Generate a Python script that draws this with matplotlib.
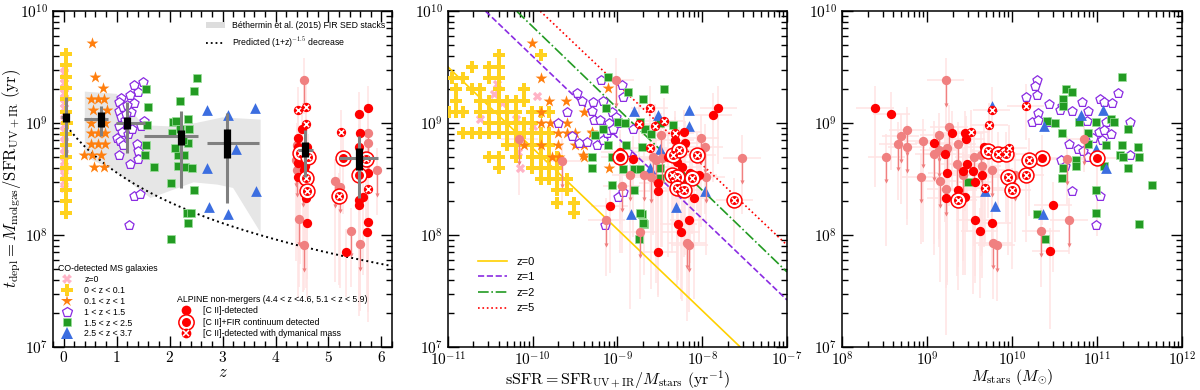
import numpy as np
import matplotlib.pyplot as plt
from matplotlib.lines import Line2D
from matplotlib.patches import Patch
from matplotlib.ticker import LogLocator, MultipleLocator, FuncFormatter, NullFormatter

plt.rcParams['mathtext.fontset'] = 'cm'
plt.rcParams['font.family'] = ['Liberation Sans', 'DejaVu Sans']

# ---------------- data (x, log10 t_depl) ----------------
# panel 1 : redshift
pink1 = [(0.0, 9.50), (0.0, 9.45), (0.0, 9.40), (0.0, 9.36), (0.0, 9.31), (0.0, 9.27), (0.0, 9.22),
         (0.0, 9.18), (0.0, 9.13), (0.0, 9.08), (0.0, 9.03), (0.0, 8.98), (0.0, 8.93), (0.0, 8.88),
         (0.0, 8.83), (0.0, 8.78), (0.0, 8.72), (0.0, 8.66), (0.0, 8.60), (0.0, 8.54), (0.0, 8.48), (0.0, 8.42)]
yel1 = [(0.04, 9.62), (0.04, 9.52), (0.05, 9.41), (0.04, 9.31), (0.05, 9.21), (0.04, 9.10), (0.06, 9.00),
        (0.04, 8.90), (0.05, 8.80), (0.04, 8.70), (0.05, 8.60), (0.04, 8.50), (0.04, 8.40), (0.04, 8.30), (0.04, 8.20)]
orange1 = [(0.53, 9.71), (0.60, 9.41), (0.75, 9.31), (0.51, 9.21), (0.64, 9.21), (0.77, 9.21), (0.56, 9.12),
           (0.82, 9.12), (0.51, 9.00), (0.79, 9.00), (0.51, 8.91), (0.64, 8.91), (0.78, 8.91), (0.51, 8.81),
           (0.64, 8.81), (0.78, 8.81), (0.38, 8.71), (0.54, 8.71), (0.70, 8.71), (0.58, 8.61), (0.77, 8.61)]
purple1 = [(1.32, 9.34), (1.49, 9.37), (1.41, 9.28), (1.25, 9.25), (1.09, 9.22), (1.04, 9.19), (1.32, 9.18),
           (1.04, 9.11), (1.12, 9.14), (1.20, 9.16), (1.28, 9.10), (1.08, 9.05), (1.15, 9.03), (1.51, 9.02),
           (1.47, 8.97), (1.05, 8.97), (1.10, 8.92), (1.22, 8.90), (1.00, 8.87), (1.06, 8.84), (1.38, 8.81),
           (1.41, 8.75), (1.04, 8.71), (1.41, 8.68), (1.26, 8.63), (1.32, 8.35), (1.45, 8.37), (1.23, 8.09),
           (1.18, 9.08), (1.30, 8.95), (1.12, 8.80)]
green1 = [(1.55, 9.30), (1.60, 9.14), (1.58, 8.98), (1.55, 8.80), (1.53, 8.71), (1.70, 8.61), (2.19, 9.20),
          (2.51, 9.40), (2.47, 9.29), (2.06, 9.01), (2.13, 9.02), (2.34, 9.04), (2.36, 8.95), (2.05, 8.91),
          (2.34, 8.82), (2.15, 8.71), (2.27, 8.71), (2.15, 8.62), (2.30, 8.61), (2.43, 8.60), (2.02, 8.46),
          (2.46, 8.40), (2.33, 8.20), (2.40, 8.20), (2.34, 8.11), (2.02, 7.96), (2.20, 8.95), (2.25, 8.85), (2.10, 8.78)]
blue1 = [(2.71, 9.12), (3.11, 9.07), (3.62, 9.13), (3.25, 8.77), (2.71, 8.60), (3.64, 8.39), (2.74, 8.25), (3.10, 8.19)]

# ALPINE (x, log t, lower error in dex)
det1 = [(4.43, 8.87, 0.4), (4.43, 8.79, 0.6), (4.47, 8.74, 1.0), (4.60, 8.79, 0.5), (4.43, 8.64, 1.2),
        (4.53, 8.58, 0.7), (4.43, 8.52, 0.4), (4.60, 8.43, 1.0), (4.57, 8.33, 0.8), (4.60, 8.11, 0.5),
        (5.34, 7.85, 0.4), (5.58, 9.08, 0.5), (5.74, 9.13, 0.7), (5.60, 8.91, 1.5), (5.57, 8.79, 0.5),
        (5.57, 8.58, 1.3), (5.74, 8.55, 0.8), (5.57, 8.31, 0.6), (5.57, 8.27, 0.9), (5.66, 8.34, 0.7),
        (5.75, 8.12, 0.9), (5.72, 8.03, 0.6), (4.50, 8.95, 0.5), (4.55, 8.62, 0.9)]
ring1 = [(5.28, 8.69, 0.5), (5.57, 8.54, 0.6)]
xdyn1 = [(4.43, 9.12, 0.3), (4.57, 9.14, 0.3), (4.57, 8.99, 0.4), (5.24, 8.92, 0.3), (5.74, 8.41, 0.4)]
ringx1 = [(4.47, 8.73, 0.5), (4.62, 8.70, 0.6), (4.58, 8.51, 0.5), (4.60, 8.39, 0.7), (5.19, 8.35, 0.8), (5.70, 8.68, 0.6)]
lim1 = [(4.53, 9.38, 0.3), (4.38, 8.67, 0.9), (4.41, 8.58, 0.7), (4.51, 8.49, 1.0), (4.45, 8.14, 0.6),
        (4.53, 7.91, 0.4), (5.13, 8.48, 0.9), (5.21, 8.43, 0.9), (5.42, 8.04, 0.5), (5.60, 7.92, 0.6),
        (5.91, 8.58, 0.4), (5.74, 8.91, 1.6), (5.75, 8.82, 1.2), (4.40, 8.80, 0.8)]

# binned medians (z, zlo, zhi, med, lo, hi, boxlo, boxhi) in log t
bin_z = [0.04, 0.70, 1.19, 2.21, 3.09, 4.55, 5.58]
bin_zlo = [-0.05, 0.38, 0.98, 1.51, 2.70, 4.42, 5.19]
bin_zhi = [0.10, 0.83, 1.53, 2.53, 3.68, 4.70, 5.94]
bin_med = [9.05, 9.04, 9.00, 8.88, 8.82, 8.76, 8.69]
bin_lo = [8.70, 8.88, 8.73, 8.42, 8.29, 8.52, 8.33]
bin_hi = [9.23, 9.15, 9.19, 9.11, 9.09, 8.94, 8.88]
box_lo = [9.01, 8.96, 8.95, 8.80, 8.69, 8.70, 8.58]
box_hi = [9.09, 9.10, 9.05, 8.94, 8.95, 8.83, 8.78]

# Bethermin et al. (2015) stacks region
beth_z_up = [0.40, 1.00, 1.30, 1.50, 2.00, 2.50, 3.00, 3.72]
beth_t_up = [9.28, 9.26, 9.10, 8.98, 8.97, 9.00, 9.05, 9.03]
beth_z_lo = [0.40, 0.94, 1.64, 2.45, 2.90, 3.20, 3.72]
beth_t_lo = [8.70, 8.58, 8.33, 8.47, 8.45, 8.42, 8.02]
pred_norm = 1.02e9
pred_slope = -1.5

# panel 2 : log sSFR
yel2 = [(-10.40, 9.61), (-9.90, 9.61), (-10.72, 9.50), (-10.51, 9.50), (-10.40, 9.50),
        (-10.95, 9.40), (-10.82, 9.40), (-10.51, 9.40), (-10.40, 9.40),
        (-10.91, 9.30), (-10.72, 9.30), (-10.62, 9.30), (-10.40, 9.30), (-10.10, 9.30),
        (-10.91, 9.20), (-10.62, 9.20), (-10.51, 9.20), (-10.40, 9.20), (-10.30, 9.20), (-10.20, 9.20), (-10.10, 9.20),
        (-10.99, 9.10), (-10.91, 9.10), (-10.82, 9.10), (-10.62, 9.10), (-10.51, 9.10), (-10.40, 9.10),
        (-10.30, 9.10), (-10.20, 9.10), (-10.01, 9.10), (-9.90, 9.10), (-9.81, 9.10),
        (-10.51, 9.00), (-10.40, 9.00), (-10.30, 9.00), (-10.20, 9.00), (-10.10, 9.00), (-10.01, 9.00),
        (-10.82, 8.91), (-10.72, 8.91), (-10.62, 8.91), (-10.51, 8.91), (-10.40, 8.91), (-10.30, 8.91),
        (-10.20, 8.91), (-10.10, 8.91), (-10.01, 8.91), (-9.90, 8.91), (-9.81, 8.91),
        (-10.30, 8.80), (-10.20, 8.80), (-10.01, 8.80), (-9.90, 8.80), (-9.81, 8.80),
        (-10.51, 8.70), (-10.40, 8.70), (-10.20, 8.70), (-10.01, 8.70), (-9.90, 8.70), (-9.81, 8.70), (-9.71, 8.70),
        (-10.40, 8.60), (-10.01, 8.60), (-9.90, 8.60), (-9.81, 8.60), (-9.71, 8.60),
        (-9.90, 8.50), (-9.81, 8.50), (-9.71, 8.50), (-9.60, 8.50),
        (-9.71, 8.40), (-9.60, 8.40), (-9.71, 8.29), (-9.51, 8.29), (-9.51, 8.20)]
pink2 = [(-10.42, 9.35), (-10.46, 9.26), (-10.36, 9.18), (-10.62, 9.04), (-10.20, 9.04), (-9.95, 9.24),
         (-10.00, 8.97), (-10.17, 8.74), (-10.15, 8.60)]
orange2 = [(-9.90, 9.40), (-9.81, 9.20), (-9.61, 9.20), (-9.40, 9.10), (-9.90, 9.10), (-9.90, 9.00),
           (-9.80, 9.00), (-9.70, 9.00), (-9.60, 9.00), (-9.70, 8.91), (-9.60, 8.91), (-9.50, 8.91),
           (-10.10, 8.80), (-9.90, 8.80), (-9.70, 8.80), (-9.50, 8.80), (-9.40, 8.80), (-9.30, 8.91),
           (-9.77, 8.70), (-9.69, 8.70), (-9.40, 8.70), (-9.10, 8.60), (-10.01, 9.71), (-9.11, 9.31),
           (-9.41, 8.71), (-9.30, 8.92)]
purple2 = [(-9.19, 9.38), (-8.95, 9.34), (-9.48, 9.27), (-9.42, 9.20), (-9.29, 9.19), (-9.17, 9.20),
           (-9.60, 9.10), (-9.30, 9.11), (-9.70, 9.00), (-9.54, 8.88), (-9.45, 8.82), (-9.36, 8.83),
           (-9.24, 8.80), (-9.17, 8.85), (-9.12, 8.91), (-9.09, 8.94), (-8.99, 9.00), (-8.82, 8.95),
           (-8.89, 8.74), (-8.99, 8.34), (-8.93, 8.38), (-9.15, 8.09), (-9.28, 9.03), (-9.21, 9.03),
           (-9.06, 9.10), (-9.02, 9.05), (-9.10, 9.00), (-9.05, 8.95), (-8.94, 9.23)]
green2 = [(-9.11, 9.41), (-8.87, 9.28), (-8.45, 9.30), (-8.70, 9.21), (-9.13, 9.13), (-8.99, 9.01),
          (-8.91, 9.00), (-8.73, 9.01), (-8.67, 8.95), (-8.60, 8.90), (-8.50, 9.00), (-8.35, 8.98),
          (-9.17, 8.95), (-9.27, 8.89), (-9.11, 8.80), (-8.90, 8.80), (-8.71, 8.79), (-9.30, 8.70),
          (-9.07, 8.70), (-8.93, 8.59), (-8.81, 8.59), (-8.73, 8.59), (-8.50, 8.60), (-9.30, 8.60),
          (-9.07, 8.45), (-8.80, 8.40), (-8.71, 8.19), (-8.69, 8.10), (-8.74, 7.96), (-8.50, 8.51),
          (-8.22, 8.46), (-8.73, 8.20), (-8.70, 8.11)]
blue2 = [(-8.81, 9.11), (-8.52, 9.07), (-8.16, 9.12), (-8.16, 8.97), (-8.50, 8.77), (-8.62, 8.60),
         (-7.97, 8.39), (-8.31, 8.25), (-8.84, 8.19)]
det2 = [(-7.81, 9.13, 0.5), (-7.87, 9.07, 0.6), (-8.97, 8.74, 0.9), (-8.82, 8.68, 0.7), (-8.32, 8.85, 0.6),
        (-8.20, 8.82, 1.0), (-8.22, 8.92, 0.5), (-8.24, 8.61, 1.2), (-8.14, 8.55, 0.8), (-8.04, 8.54, 0.6),
        (-8.52, 8.46, 1.0), (-8.52, 8.39, 0.7), (-8.10, 8.33, 0.9), (-9.09, 8.26, 0.6), (-8.28, 8.10, 0.5),
        (-8.16, 8.13, 0.7), (-8.25, 8.03, 0.6), (-8.52, 7.85, 0.4), (-8.40, 8.70, 0.9), (-8.30, 8.65, 1.1)]
ring2 = [(-8.97, 8.70, 0.6)]
xdyn2 = [(-8.62, 9.13, 0.3), (-8.74, 8.99, 0.4), (-8.56, 8.97, 0.3), (-8.32, 8.91, 0.4), (-8.62, 8.78, 0.4), (-8.45, 9.02, 0.3)]
ringx2 = [(-8.35, 8.71, 0.6), (-8.27, 8.76, 0.5), (-8.06, 8.71, 0.5), (-8.36, 8.54, 0.7), (-8.30, 8.52, 0.6),
          (-8.12, 8.51, 0.5), (-8.30, 8.42, 0.8), (-8.22, 8.40, 0.6), (-7.62, 8.31, 0.4)]
lim2 = [(-9.02, 9.38, 0.4), (-8.49, 8.89, 1.0), (-8.02, 8.87, 0.8), (-7.97, 8.79, 0.6), (-7.53, 8.69, 0.5),
        (-8.85, 8.54, 1.2), (-8.69, 8.54, 0.9), (-8.60, 8.52, 1.0), (-8.54, 8.67, 1.1), (-8.58, 8.70, 0.7),
        (-8.47, 8.69, 0.8), (-7.95, 8.52, 0.7), (-8.95, 8.44, 0.6), (-8.73, 8.03, 0.6), (-9.13, 8.13, 0.5),
        (-8.18, 7.93, 0.7), (-8.15, 7.91, 0.6), (-9.65, 8.66, 0.4), (-10.16, 8.86, 0.5)]
ssfr_xerr = 0.22

# panel 2 model lines: log t at sSFR = 1e-11 and 1e-7
line_labels = ['z=0', 'z=1', 'z=2', 'z=5']
line_t_left = [9.50, 10.32, 10.59, 10.78]
line_t_right = [6.60, 7.42, 7.67, 7.91]

# panel 3 : log Mstars
purple3 = [(10.29, 9.38), (10.27, 9.33), (10.17, 9.23), (10.29, 9.25), (10.44, 9.17), (10.59, 9.15),
           (10.57, 9.12), (10.70, 9.11), (10.82, 9.19), (10.89, 9.11), (11.04, 9.21), (11.08, 9.19),
           (11.18, 9.18), (11.25, 9.27), (10.31, 9.09), (10.23, 9.01), (10.31, 9.03), (10.43, 9.01),
           (10.88, 9.02), (11.39, 9.01), (11.10, 9.01), (11.02, 8.92), (11.08, 8.94), (11.17, 8.90),
           (10.95, 8.87), (11.06, 8.85), (10.67, 8.81), (10.78, 8.77), (10.83, 8.75), (10.89, 8.70),
           (11.39, 8.71), (10.58, 8.67), (10.62, 8.62), (10.71, 8.39), (11.03, 8.35), (10.99, 8.09)]
green3 = [(11.29, 9.41), (10.63, 9.30), (10.70, 9.28), (10.60, 9.21), (10.60, 9.15), (10.41, 9.02),
          (10.50, 9.00), (10.79, 9.01), (10.99, 9.01), (11.17, 9.04), (11.20, 9.01), (11.37, 8.95),
          (10.59, 8.91), (10.89, 8.91), (10.89, 8.81), (11.10, 8.80), (11.29, 8.80), (11.48, 8.79),
          (11.27, 8.71), (11.30, 8.70), (11.49, 8.70), (10.75, 8.67), (10.75, 8.62), (10.60, 8.60),
          (10.59, 8.51), (11.37, 8.60), (11.08, 8.62), (11.65, 8.45), (10.99, 8.40), (10.99, 8.20),
          (11.49, 8.10), (10.29, 8.19), (10.39, 7.96), (9.48, 8.47)]
blue3 = [(9.77, 9.15), (10.38, 8.97), (10.81, 9.07), (11.07, 9.12), (10.99, 8.77), (11.10, 8.60),
         (9.80, 8.26), (10.37, 8.19), (9.68, 8.39)]
det3 = [(8.39, 9.13, 0.7), (8.58, 9.08, 0.5), (9.08, 8.82, 0.9), (9.21, 8.72, 0.6), (9.29, 8.91, 0.5),
        (9.45, 8.91, 0.7), (9.46, 8.86, 0.6), (9.67, 8.79, 0.9), (9.23, 8.55, 1.0), (9.42, 8.57, 0.8),
        (9.47, 8.63, 0.6), (9.54, 8.57, 1.1), (9.56, 8.47, 0.9), (9.65, 8.54, 0.7), (9.37, 8.40, 0.6),
        (9.22, 8.33, 0.8), (9.45, 8.34, 0.7), (9.56, 8.13, 0.5), (9.62, 8.04, 0.6), (9.77, 8.11, 0.4),
        (10.48, 8.27, 0.6), (10.45, 7.86, 0.7)]
ring3 = [(10.35, 8.69, 0.6), (11.00, 8.69, 0.7)]
xdyn3 = [(9.52, 8.92, 0.3), (9.76, 9.12, 0.3), (9.73, 8.98, 0.4), (10.16, 9.15, 0.3), (9.96, 8.78, 0.4), (9.68, 8.42, 0.5)]
ringx3 = [(9.72, 8.75, 0.6), (9.84, 8.72, 0.5), (9.93, 8.72, 0.6), (10.20, 8.67, 0.5), (9.95, 8.52, 0.7),
          (10.16, 8.54, 0.6), (10.00, 8.40, 0.7), (9.37, 8.31, 0.8)]
lim3 = [(9.22, 9.38, 0.4), (8.77, 8.94, 0.8), (8.69, 8.88, 0.6), (8.66, 8.81, 0.5), (8.76, 8.79, 0.7),
        (8.95, 8.84, 0.9), (8.52, 8.70, 0.8), (8.93, 8.52, 0.6), (9.14, 8.89, 1.0), (9.26, 8.96, 0.7),
        (9.36, 8.81, 1.1), (9.08, 8.72, 0.9), (9.14, 8.76, 0.8), (9.24, 8.78, 1.2), (9.35, 8.63, 1.0),
        (9.15, 8.48, 0.9), (9.22, 8.41, 1.3), (9.55, 8.70, 0.8), (9.63, 8.71, 0.9), (9.65, 8.62, 1.0),
        (9.76, 8.58, 0.7), (10.04, 8.54, 0.6), (9.78, 7.93, 0.5), (9.82, 7.91, 0.5), (10.34, 8.04, 0.5),
        (10.67, 8.13, 0.3), (10.65, 8.68, 0.4), (10.85, 8.86, 0.3), (9.42, 8.54, 0.9)]
mass_xerr = 0.22

# ---------------- styles ----------------
PINK = '#ffb3c6'
YEL = '#ffd21f'
ORA = '#ff7f0e'
PUR = '#8a2be2'
GRN = '#239b23'
BLU = '#3c6ee0'
RED = '#ff0000'
SAL = '#f08080'
ERRC = '#ffe3e3'
ERR_UP = 0.2
LIM_LEN = 0.22

co_style = {
    'pink': dict(marker='X', s=45, color=PINK, lw=0),
    'yel': dict(marker='P', s=65, color=YEL, lw=0),
    'ora': dict(marker='*', s=80, color=ORA, lw=0),
    'pur': dict(marker='p', s=48, facecolors='white', edgecolors=PUR, linewidths=0.9),
    'grn': dict(marker='s', s=36, color=GRN, edgecolors='#9be09b', linewidths=0.5),
    'blu': dict(marker='^', s=60, color=BLU, lw=0),
}


def co(ax, pts, key, logx, z=3):
    x = np.array([p[0] for p in pts])
    y = 10 ** np.array([p[1] for p in pts])
    if logx:
        x = 10 ** x
    ax.scatter(x, y, zorder=z, **co_style[key])


def alpine(ax, det, ring, xdyn, ringx, lim, logx, xe=0.0):
    for pts in [det, ring, xdyn, ringx, lim]:
        lx = np.array([p[0] for p in pts])
        lt = np.array([p[1] for p in pts])
        dn = np.array([p[2] for p in pts])
        y = 10 ** lt
        yerr = [y - 10 ** (lt - dn), 10 ** (lt + ERR_UP) - y]
        if logx:
            x = 10 ** lx
            xerr = [x - 10 ** (lx - xe), 10 ** (lx + xe) - x]
        else:
            x = lx
            xerr = None
        ax.errorbar(x, y, xerr=xerr, yerr=yerr, fmt='none', ecolor=ERRC, elinewidth=1.1, zorder=1)

    def xy(pts):
        lx = np.array([p[0] for p in pts])
        y = 10 ** np.array([p[1] for p in pts])
        return (10 ** lx if logx else lx), y

    x, y = xy(lim)
    ybot = y * 10 ** (-LIM_LEN)
    ax.vlines(x, ybot, y, color=SAL, lw=1.0, zorder=3)
    ax.scatter(x, ybot, marker='v', s=9, color=SAL, lw=0, zorder=3)
    ax.scatter(x, y, marker='o', s=45, color=SAL, lw=0, zorder=3)

    x, y = xy(det)
    ax.scatter(x, y, marker='o', s=45, color=RED, lw=0, zorder=5)
    for pts, cross in [(ring, False), (ringx, True)]:
        x, y = xy(pts)
        ax.scatter(x, y, marker='o', s=115, facecolors='white', edgecolors=RED, linewidths=1.1, zorder=5)
        ax.scatter(x, y, marker='o', s=42, color=RED, lw=0, zorder=5)
        if cross:
            ax.scatter(x, y, marker='x', s=14, color='white', linewidths=1.1, zorder=6)
    x, y = xy(xdyn)
    ax.scatter(x, y, marker='o', s=45, color=RED, lw=0, zorder=5)
    ax.scatter(x, y, marker='x', s=14, color='white', linewidths=1.1, zorder=6)


def dec(v, pos):
    return r'$10^{%d}$' % int(round(np.log10(v)))


def style_axes(ax, logx):
    ax.set_yscale('log')
    ax.set_ylim(1e7, 1e10)
    ax.yaxis.set_major_locator(LogLocator(base=10, numticks=10))
    ax.yaxis.set_minor_locator(LogLocator(base=10, subs=np.arange(2, 10), numticks=10))
    ax.yaxis.set_major_formatter(FuncFormatter(dec))
    ax.yaxis.set_minor_formatter(NullFormatter())
    if logx:
        ax.set_xscale('log')
        ax.xaxis.set_major_locator(LogLocator(base=10, numticks=10))
        ax.xaxis.set_minor_locator(LogLocator(base=10, subs=np.arange(2, 10), numticks=10))
        ax.xaxis.set_major_formatter(FuncFormatter(dec))
        ax.xaxis.set_minor_formatter(NullFormatter())
    ax.tick_params(which='both', direction='in', top=True, right=True, width=1.0, labelsize=11)
    ax.tick_params(axis='x', pad=2.5)
    ax.tick_params(which='major', length=8)
    ax.tick_params(which='minor', length=4.5)
    for s in ax.spines.values():
        s.set_linewidth(1.1)


fig = plt.figure(figsize=(12, 3.9), dpi=100)
ax1 = fig.add_axes([0.0442, 0.1103, 0.2825, 0.8615])
ax2 = fig.add_axes([0.3733, 0.1103, 0.2825, 0.8615])
ax3 = fig.add_axes([0.7017, 0.1103, 0.2833, 0.8615])

# ---------------- panel 1 ----------------
bz = np.concatenate([beth_z_up, beth_z_lo[::-1]])
bt = 10 ** np.concatenate([beth_t_up, beth_t_lo[::-1]])
ax1.fill(bz, bt, color='#e6e6e6', lw=0, zorder=0)
zz = np.linspace(0, 6.2, 200)
ax1.plot(zz, pred_norm * (1 + zz) ** pred_slope, ':', color='black', lw=1.4, zorder=2)

co(ax1, pink1, 'pink', False)
co(ax1, yel1, 'yel', False)
co(ax1, orange1, 'ora', False)
co(ax1, purple1, 'pur', False)
co(ax1, green1, 'grn', False)
co(ax1, blue1, 'blu', False)
alpine(ax1, det1, ring1, xdyn1, ringx1, lim1, False)

med = 10 ** np.array(bin_med)
ax1.vlines(bin_z, 10 ** np.array(bin_lo), 10 ** np.array(bin_hi), color='#808080', lw=2.2, zorder=7)
ax1.hlines(med, bin_zlo, bin_zhi, color='#808080', lw=2.2, zorder=7)
ax1.vlines(bin_z, 10 ** np.array(box_lo), 10 ** np.array(box_hi), color='black', lw=5.2, zorder=8)

ax1.set_xlim(-0.2, 6.2)
style_axes(ax1, False)
ax1.xaxis.set_major_locator(MultipleLocator(1))
ax1.xaxis.set_minor_locator(MultipleLocator(0.2))
ax1.xaxis.set_major_formatter(FuncFormatter(lambda v, p: r'$%d$' % int(round(v))))
ax1.set_xlabel(r'$z$', fontsize=12, labelpad=0)
ax1.set_ylabel(r'$t_{\rm depl}=M_{\rm molgas}/{\rm SFR}_{\rm UV+IR}\ ({\rm yr})$', fontsize=12, labelpad=-2)

fs = 6.3
h_top = [Patch(facecolor='#dddddd', edgecolor='none'),
         Line2D([], [], ls=':', color='black', lw=1.3)]
leg1 = ax1.legend(h_top, ['Béthermin et al. (2015) FIR SED stacks', 'Predicted (1+z)$^{-1.5}$ decrease'],
                  loc='upper right', bbox_to_anchor=(0.995, 0.985), frameon=False, fontsize=fs,
                  handlelength=2.2, labelspacing=0.6, borderaxespad=0.2)
ax1.add_artist(leg1)

h_co = [Line2D([], [], ls='none', marker='X', ms=7, color=PINK, mew=0),
        Line2D([], [], ls='none', marker='P', ms=8, color=YEL, mew=0),
        Line2D([], [], ls='none', marker='*', ms=9, color=ORA, mew=0),
        Line2D([], [], ls='none', marker='p', ms=7.5, mfc='white', mec=PUR, mew=0.9),
        Line2D([], [], ls='none', marker='s', ms=6, color=GRN, mec='#9be09b', mew=0.5),
        Line2D([], [], ls='none', marker='^', ms=8, color=BLU, mew=0)]
leg2 = ax1.legend(h_co, ['z=0', '0 < z < 0.1', '0.1 < z < 1', '1 < z < 1.5', '1.5 < z < 2.5', '2.5 < z < 3.7'],
                  title='CO-detected MS galaxies', title_fontsize=fs, alignment='left',
                  loc='lower left', bbox_to_anchor=(0.005, 0.015), frameon=False, fontsize=fs,
                  handletextpad=1.0, labelspacing=0.22, borderaxespad=0.2, borderpad=0.2)
ax1.add_artist(leg2)

h_al = [(Line2D([], [], ls='none', marker='o', ms=7, color=RED, mew=0)),
        (Line2D([], [], ls='none', marker='o', ms=11, mfc='white', mec=RED, mew=1.1),
         Line2D([], [], ls='none', marker='o', ms=6.5, color=RED, mew=0)),
        (Line2D([], [], ls='none', marker='o', ms=7, color=RED, mew=0),
         Line2D([], [], ls='none', marker='x', ms=3.8, color='white', mew=1.1))]
leg3 = ax1.legend(h_al, ['[C II]-detected', '[C II]+FIR continuum detected', '[C II]-detected with dymanical mass'],
                  title='ALPINE non-mergers (4.4 < z <4.6, 5.1 < z < 5.9)', title_fontsize=fs, alignment='left',
                  loc='lower left', bbox_to_anchor=(0.355, 0.015), frameon=False, fontsize=fs,
                  handletextpad=1.0, labelspacing=0.3, borderaxespad=0.2, borderpad=0.2)

# ---------------- panel 2 ----------------
line_styles = [dict(ls='-', color='#ffd000'), dict(ls='--', color=PUR),
               dict(ls='-.', color=GRN), dict(ls=':', color=RED)]
for lab, tl, tr, st in zip(line_labels, line_t_left, line_t_right, line_styles):
    ax2.plot([1e-11, 1e-7], [10 ** tl, 10 ** tr], lw=1.2, label=lab, zorder=2, **st)

co(ax2, pink2, 'pink', True)
co(ax2, yel2, 'yel', True)
co(ax2, orange2, 'ora', True)
co(ax2, purple2, 'pur', True)
co(ax2, green2, 'grn', True)
co(ax2, blue2, 'blu', True)
alpine(ax2, det2, ring2, xdyn2, ringx2, lim2, True, ssfr_xerr)

ax2.set_xlim(1e-11, 1e-7)
style_axes(ax2, True)
ax2.set_xlabel(r'${\rm sSFR}={\rm SFR}_{\rm UV+IR}/M_{\rm stars}\ ({\rm yr}^{-1})$', fontsize=11.5, labelpad=0)
ax2.legend(loc='lower left', bbox_to_anchor=(0.06, 0.07), frameon=False, fontsize=8,
           handlelength=2.6, labelspacing=0.5)

# ---------------- panel 3 ----------------
co(ax3, purple3, 'pur', True)
co(ax3, green3, 'grn', True)
co(ax3, blue3, 'blu', True)
alpine(ax3, det3, ring3, xdyn3, ringx3, lim3, True, mass_xerr)

ax3.set_xlim(1e8, 1e12)
style_axes(ax3, True)
ax3.set_xlabel(r'$M_{\rm stars}\ (M_{\odot})$', fontsize=11.5, labelpad=-1)

fig.savefig('out.png', dpi=100)
